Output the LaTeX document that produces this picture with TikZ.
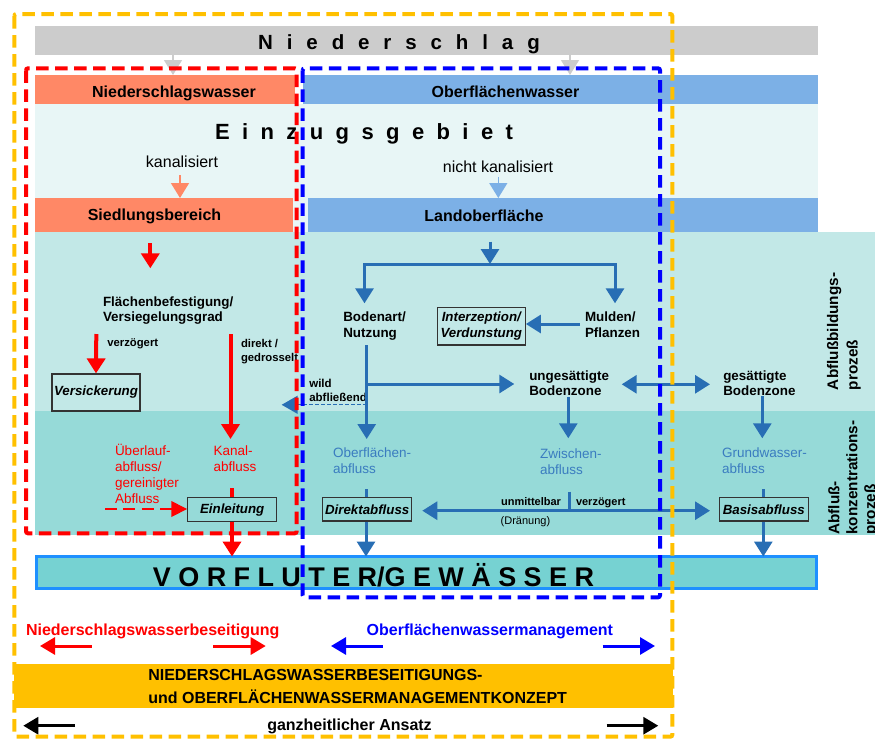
\documentclass[tikz,border=0pt]{standalone}
\usepackage{fontspec}
\setmainfont{Liberation Sans}
\usetikzlibrary{arrows.meta}

\definecolor{gold}{HTML}{FFC000}
\definecolor{greybar}{HTML}{CCCCCC}
\definecolor{salmon}{HTML}{FF8866}
\definecolor{skyblue}{HTML}{7CB0E6}
\definecolor{paleband}{HTML}{E8F6F6}
\definecolor{lightband}{HTML}{C2E8E7}
\definecolor{tealband}{HTML}{96DAD8}
\definecolor{riverfill}{HTML}{76D2D2}
\definecolor{riveredge}{HTML}{1E90FF}
\definecolor{flowblue}{HTML}{286EB4}
\definecolor{textblue}{HTML}{3A7CC0}
\definecolor{boxedge}{HTML}{333333}

\newcommand{\setfs}[2]{\fontsize{#1}{#2}\selectfont}
\newcommand{\spacedtext}[2]{\spaceskip=#1\relax #2}

% multi-line labels are anchored at the baseline of their last line
\tikzset{
  lbl/.style={inner sep=0pt, outer sep=0pt},
  bar/.style={inner sep=0pt, outer sep=0pt, anchor=north west},
  frame/.style={line width=4pt, dash pattern=on 12.5pt off 6.5pt, rounded corners=2pt},
  bigtip/.style={-{Triangle[length=15pt,width=18pt]}},
  redflow/.style={draw=red, line width=4pt, bigtip},
  blueflow/.style={draw=flowblue, line width=3pt, bigtip},
  softflow/.style={line width=1.5pt, bigtip},
  sidearrow/.style={line width=3pt, -{Triangle[length=15pt,width=17pt]}},
  procbox/.style={draw=boxedge, line width=1.2pt, inner sep=0pt,
    font=\bfseries\itshape\setfs{13.3}{15}, align=center},
  head/.style={lbl, font=\bfseries\setfs{16}{19}},
  mid/.style={lbl, font=\bfseries\setfs{13.4}{16}, align=left, anchor=base west},
  small/.style={lbl, font=\bfseries\setfs{11.3}{14.4}, align=left},
  runoff/.style={lbl, font=\setfs{13.5}{16}, align=left, anchor=base west},
}

\begin{document}
\begin{tikzpicture}[x=1pt,y=-1pt]
\useasboundingbox (0,0) rectangle (875,742);

% background bands
\fill[paleband] (35,104) rectangle (818,232);
\fill[lightband] (35,232) rectangle (875,411);
\fill[tealband] (35,411) rectangle (875,535);

% bars
\node (rain) [bar, fill=greybar, minimum width=783, minimum height=29] at (35,26) {};
\node (nsw) [bar, fill=salmon, minimum width=260, minimum height=29] at (35,75) {};
\node (ofw) [bar, fill=skyblue, minimum width=515, minimum height=29] at (303,75) {};
\node (sied) [bar, fill=salmon, minimum width=258, minimum height=34] at (35,198) {};
\node (land) [bar, fill=skyblue, minimum width=510, minimum height=34] at (308,198) {};
\node (vorf) [bar, fill=riverfill, draw=riveredge, line width=3pt, minimum width=780,
  minimum height=32] at (36.5,556.5) {};
\node (konzbar) [bar, fill=gold, minimum width=659, minimum height=44] at (14,664) {};

% headings
\node (raintext) [lbl, anchor=base, font=\bfseries\setfs{20.5}{24}] at (399,49)
  {\spacedtext{13.9pt}{N i e d e r s c h l a g}};
\node (nswtext) [head, anchor=base] at (174,97.3) {Niederschlagswasser};
\node (ofwtext) [head, anchor=base] at (505.5,97.3) {Oberflächenwasser};
\node (einz) [lbl, anchor=base, font=\bfseries\setfs{22}{26}] at (364,139)
  {\spacedtext{12.4pt}{E i n z u g s g e b i e t}};
\node (kanal) [lbl, anchor=base, font=\setfs{16}{19}] at (182,167.3) {kanalisiert};
\node (nkanal) [lbl, anchor=base, font=\setfs{16}{19}] at (498,172.7) {nicht kanalisiert};
\node (siedtext) [head, anchor=base] at (154.5,220.7) {Siedlungsbereich};
\node (landtext) [head, anchor=base] at (484,221.7) {Landoberfläche};
\node (vorftext) [lbl, anchor=base, font=\bfseries\setfs{27}{30}] at (373.5,586)
  {\spacedtext{7.4pt}{V O R F L U T E R/G E W Ä S S E R}};

% settlement column
\node (flaech) [mid, font=\bfseries\setfs{13.4}{15}] at (103,321.7)
  {Flächenbefestigung/\\Versiegelungsgrad};
\node (verz1) [small, anchor=base west] at (107.3,346.7) {verzögert};
\node (direkt) [small, anchor=base west] at (241,361.7) {direkt /\\gedrosselt};
\node (versick) [procbox, fill=lightband, minimum width=88, minimum height=37] at (96,392.5)
  {Versickerung};
\node (ueber) [runoff, text=red] at (115,503) {Überlauf-\\abfluss/\\gereinigter\\Abfluss};
\node (kanalab) [runoff, text=red] at (213.7,471) {Kanal-\\abfluss};
\node (einl) [procbox, fill=tealband, minimum width=89, minimum height=24] at (232.2,509.7)
  {Einleitung};

% land surface column
\node (boden) [mid] at (343.3,337.7) {Bodenart/\\Nutzung};
\node (interz) [procbox, fill=lightband, minimum width=88, minimum height=37.7,
  font=\bfseries\itshape\setfs{13.3}{15.3}] at (481.3,326.2) {Interzeption/\\Verdunstung};
\node (mulden) [mid] at (585,337.5) {Mulden/\\Pflanzen};
\node (wild) [small, anchor=base west, font=\bfseries\setfs{11.5}{14.4}] at (309.3,401.7)
  {wild\\abfließend};
\node (unges) [mid, font=\bfseries\setfs{13.4}{15}] at (529.3,395) {ungesättigte\\Bodenzone};
\node (ges) [mid, font=\bfseries\setfs{13.4}{15}] at (723.3,395) {gesättigte\\Bodenzone};
\node (ofab) [runoff, text=textblue] at (333,473.3) {Oberflächen-\\abfluss};
\node (zwab) [runoff, text=textblue, font=\setfs{13.5}{16.5}] at (540,474.8) {Zwischen-\\abfluss};
\node (gwab) [runoff, text=textblue] at (722,473.3) {Grundwasser-\\abfluss};
\node (direktab) [procbox, fill=tealband, minimum width=89, minimum height=23.3] at (367.2,509.3)
  {Direktabfluss};
\node (basis) [procbox, fill=tealband, minimum width=89, minimum height=23.3] at (763.8,509.3)
  {Basisabfluss};
\node (unmitt) [small, anchor=base east, font=\bfseries\setfs{11}{13}] at (561,505) {unmittelbar};
\node (verz2) [small, anchor=base west, font=\bfseries\setfs{11}{13}] at (576,505) {verzögert};
\node (draen) [lbl, anchor=base west, font=\setfs{11}{13}] at (500.7,524) {(Dränung)};

% process labels on the right
\node (bildung) [lbl, rotate=90, anchor=base west, align=left, font=\bfseries\setfs{15.3}{19.5}]
  at (857.7,390) {Abflußbildungs-\\prozeß};
\node (konz) [lbl, rotate=90, anchor=base west, align=left, font=\bfseries\setfs{15.3}{18}]
  at (875.3,534.5) {Abfluß-\\konzentrations-\\prozeß};

% bottom captions
\node (nwb) [head, anchor=base west, text=red] at (26,635) {Niederschlagswasserbeseitigung};
\node (ofwm) [head, anchor=base west, text=blue] at (366.7,635) {Oberflächenwassermanagement};
\node (konzept) [head, anchor=base west, align=left, font=\bfseries\setfs{16}{22.7}] at (148.3,703.4)
  {NIEDERSCHLAGSWASSERBESEITIGUNGS-\\und OBERFLÄCHENWASSERMANAGEMENTKONZEPT};
\node (ganz) [head, anchor=base] at (349.5,730.7) {ganzheitlicher Ansatz};

% rain split
\draw[softflow, greybar] (173,0 |- rain.south) -- (173,0 |- nsw.north);
\draw[softflow, greybar] (570,0 |- rain.south) -- (570,0 |- ofw.north);
\draw[softflow, salmon] (180,175) -- (180,0 |- sied.north);
\draw[softflow, skyblue] (498.3,176.7) -- (498.3,0 |- land.north);

% settlement flows
\draw[redflow] (150.3,243) -- (150.3,268.3);
\draw[redflow] (96.3,334) -- (versick.north);
\draw[redflow] (230.5,334) -- (230.5,439);
\draw[draw=red, line width=3.5pt] (232,488.3) -- (232,0 |- einl.north);
\draw[redflow] (232,0 |- einl.south) -- (232,0 |- vorf.north);
\draw[draw=red, line width=1.2pt, dash pattern=on 11.7pt off 6.7pt,
  -{Triangle[length=15.7pt,width=15.7pt]}] (105,509) -- (einl.west |- 0,509);

% land surface flows
\draw[blueflow] (490,241.7) -- (490,264);
\draw[draw=flowblue, line width=3pt, {Triangle[length=15pt,width=18pt]}-{Triangle[length=15pt,width=18pt]}]
  (364.5,303.3) |- (615,264) -- (615,303.3);
\draw[blueflow] (580,324) -- (interz.east |- 0,324);
\draw[blueflow] (366.7,345) -- (366.7,439);
\draw[blueflow] (366.7,384) -- (514.3,384);
\draw[draw=flowblue, line width=1pt, dash pattern=on 4pt off 2pt] (366.7,404.3) -- (297,404.3);
\fill[flowblue] (281.7,404.8) -- (297.7,395.6) -- (297.7,414) -- cycle;
\draw[blueflow] (568.3,397) -- (568.3,438.3);
\draw[draw=flowblue, line width=3pt, {Triangle[length=15pt,width=18pt]}-{Triangle[length=15pt,width=18pt]}]
  (621.7,384.3) -- (710,384.3);
\draw[blueflow] (762.3,396) -- (762.3,438.3);

% concentration flows
\draw[draw=flowblue, line width=3pt] (366,489.3) -- (366,0 |- direktab.north);
\draw[blueflow] (366,0 |- direktab.south) -- (366,0 |- vorf.north);
\draw[draw=flowblue, line width=3pt, {Triangle[length=15pt,width=18pt]}-{Triangle[length=15pt,width=18pt]}]
  (422.3,510.7) -- (710,510.7);
\draw[draw=flowblue, line width=3pt] (569.3,491.7) -- (569.3,510.7);
\draw[draw=flowblue, line width=3pt] (763.3,489.3) -- (763.3,0 |- basis.north);
\draw[blueflow] (763.3,0 |- basis.south) -- (763.3,0 |- vorf.north);

% caption arrows
\draw[sidearrow, red] (91.7,646) -- (40,646);
\draw[sidearrow, red] (213.3,646) -- (265.7,646);
\draw[sidearrow, blue] (382.7,646) -- (331,646);
\draw[sidearrow, blue] (602.7,646) -- (655,646);
\draw[sidearrow, black] (75,725.7) -- (23.3,725.7);
\draw[sidearrow, black] (606.7,725.7) -- (658.3,725.7);

% responsibility frames
\draw[frame, red] (26,68.3) rectangle (296.7,533.3);
\draw[frame, blue] (302.7,68.3) rectangle (660,597.3);
\draw[frame, gold] (14.3,14) rectangle (672.3,736.7);
\end{tikzpicture}
\end{document}
